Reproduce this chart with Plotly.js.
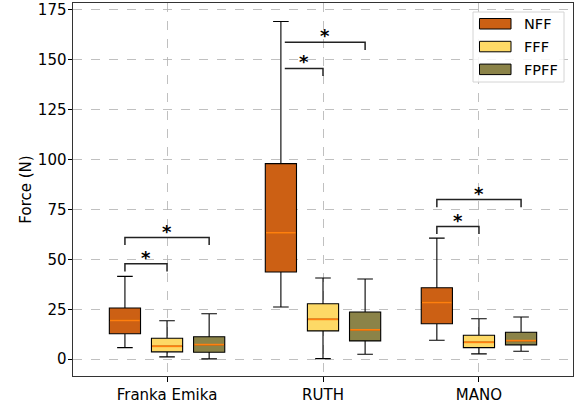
<!DOCTYPE html>
<html>
<head>
<meta charset="utf-8">
<script src="https://cdn.plot.ly/plotly-3.0.1.min.js"></script>
<style>html,body{margin:0;padding:0;background:#fff;}#chart{width:580px;height:405px;}</style>
</head>
<body>
<div id="chart"></div>
<script>
// ---- data ----
const categories = ["Franka Emika", "RUTH", "MANO"];
const seriesNames = ["NFF", "FFF", "FPFF"];

const nffLower  = [5.8, 26.2, 9.5];
const nffQ1     = [12.8, 43.7, 17.8];
const nffMedian = [19.5, 63.3, 28.5];
const nffQ3     = [25.7, 98.0, 35.8];
const nffUpper  = [41.5, 169.2, 60.7];

const fffLower  = [1.2, 0.3, 2.7];
const fffQ1     = [3.7, 14.2, 5.8];
const fffMedian = [6.5, 20.0, 8.5];
const fffQ3     = [10.5, 27.8, 12.0];
const fffUpper  = [19.3, 40.7, 20.3];

const fpffLower  = [0.2, 2.5, 4.0];
const fpffQ1     = [3.5, 9.2, 7.2];
const fpffMedian = [7.3, 14.7, 9.3];
const fpffQ3     = [11.3, 23.7, 13.5];
const fpffUpper  = [22.8, 40.2, 21.2];

const yTickVals = [0, 25, 50, 75, 100, 125, 150, 175];

// significance brackets: group, from-series, to-series, bracket height
const bracketGroup = [0, 0, 1, 1, 2, 2];
const bracketFrom  = [0, 0, 0, 0, 0, 0];
const bracketTo    = [1, 2, 1, 2, 1, 2];
const bracketTop   = [47.8, 61.0, 145.7, 158.8, 66.5, 80.0];
const bracketLabel = ["*", "*", "*", "*", "*", "*"];

// ---- styling ----
const fills = ["#cc6014", "#fdd966", "#8b8348"];
const medianColor = "#ff7f0e";
const offsets = [-0.27, 0, 0.27];
const boxW = 0.2;
const legDrop = 3.8;
const M = {l: 73, r: 7, t: 3, b: 29};
const W = 580, H = 405;
const pw = W - M.l - M.r, ph = H - M.t - M.b;
const px2x = px => (px - M.l) / pw;
const py2y = py => (H - M.b - py) / ph;

const series = [
  {lower: nffLower, q1: nffQ1, med: nffMedian, q3: nffQ3, upper: nffUpper},
  {lower: fffLower, q1: fffQ1, med: fffMedian, q3: fffQ3, upper: fffUpper},
  {lower: fpffLower, q1: fpffQ1, med: fpffMedian, q3: fpffQ3, upper: fpffUpper}
];

const traces = [];
series.forEach((s, i) => {
  const xs = categories.map((c, g) => g + offsets[i]);
  traces.push({
    type: "box",
    name: seriesNames[i],
    x: xs,
    q1: s.q1, median: s.med, q3: s.q3,
    lowerfence: s.lower, upperfence: s.upper,
    width: boxW,
    whiskerwidth: 0.5,
    fillcolor: fills[i],
    line: {color: "#000", width: 1.1},
    boxpoints: false,
    showlegend: false,
    hoverinfo: "skip"
  });
});
// median lines
series.forEach((s, i) => {
  const mx = [], my = [];
  categories.forEach((c, g) => {
    const p = g + offsets[i];
    mx.push(p - boxW / 2 + 0.004, p + boxW / 2 - 0.004, null);
    my.push(s.med[g], s.med[g], null);
  });
  traces.push({
    type: "scatter", mode: "lines", x: mx, y: my,
    line: {color: medianColor, width: 1.8},
    showlegend: false, hoverinfo: "skip"
  });
});

const shapes = [];
const annotations = [];
bracketGroup.forEach((g, k) => {
  let x1 = g + offsets[bracketFrom[k]];
  const x2 = g + offsets[bracketTo[k]];
  const h = bracketTop[k];
  // left leg hidden when the bracket crosses the tall whisker
  const tall = series[bracketFrom[k]].upper[g] > h;
  if (tall) x1 += 0.025;
  const path = tall
    ? `M ${x1},${h} L ${x2},${h} L ${x2},${h - legDrop}`
    : `M ${x1},${h - legDrop} L ${x1},${h} L ${x2},${h} L ${x2},${h - legDrop}`;
  shapes.push({type: "path", xref: "x", yref: "y", path: path,
    line: {color: "#222", width: 1.5}});
  annotations.push({x: (x1 + x2) / 2, y: h, xref: "x", yref: "y",
    text: "<b>" + bracketLabel[k] + "</b>", showarrow: false, yanchor: "bottom",
    yshift: -6,
    font: {family: "DejaVu Sans", size: 18, color: "#000"}});
});

// manual legend (matplotlib-style patches)
shapes.push({type: "rect", xref: "paper", yref: "paper",
  x0: px2x(473), x1: px2x(564), y0: py2y(82), y1: py2y(12),
  fillcolor: "rgba(255,255,255,0.85)", line: {color: "#d4d4d4", width: 1}, layer: "above"});
seriesNames.forEach((n, i) => {
  const cy = 24 + i * 22.8;
  shapes.push({type: "rect", xref: "paper", yref: "paper",
    x0: px2x(479.5), x1: px2x(511), y0: py2y(cy + 5), y1: py2y(cy - 5.5),
    fillcolor: fills[i], line: {color: "#000", width: 1}, layer: "above"});
  annotations.push({xref: "paper", yref: "paper", x: px2x(522), y: py2y(cy),
    xanchor: "left", yanchor: "middle", showarrow: false, text: n,
    font: {family: "DejaVu Sans", size: 14.5, color: "#000"}});
});

const gridStyle = {showgrid: true, gridcolor: "#b0b0b0", griddash: "dash", gridwidth: 0.8};

const layout = {
  width: W, height: H,
  margin: {l: M.l, r: M.r, t: M.t, b: M.b, pad: 0},
  paper_bgcolor: "#fff", plot_bgcolor: "#fff",
  font: {family: "DejaVu Sans", size: 15, color: "#000"},
  showlegend: false,
  boxmode: "overlay",
  xaxis: Object.assign({
    range: [-0.603, 2.603],
    tickvals: categories.map((c, g) => g), ticktext: categories,
    ticks: "outside", ticklen: 4.5, tickwidth: 1, tickcolor: "#000",
    showline: true, mirror: true, linecolor: "#333", linewidth: 1,
    zeroline: false, fixedrange: true, tickfont: {size: 15}
  }, gridStyle),
  yaxis: Object.assign({
    range: [-8.4, 178.5],
    tickvals: yTickVals,
    ticks: "outside", ticklen: 4.5, tickwidth: 1, tickcolor: "#000",
    showline: true, mirror: true, linecolor: "#333", linewidth: 1,
    zeroline: false, fixedrange: true, tickfont: {size: 15},
    ticklabelstandoff: -2,
    title: {text: "Force (N)", standoff: 2, font: {size: 15}}
  }, gridStyle),
  shapes: shapes,
  annotations: annotations
};

Plotly.newPlot("chart", traces, layout, {staticPlot: true, displayModeBar: false});
</script>
</body>
</html>
